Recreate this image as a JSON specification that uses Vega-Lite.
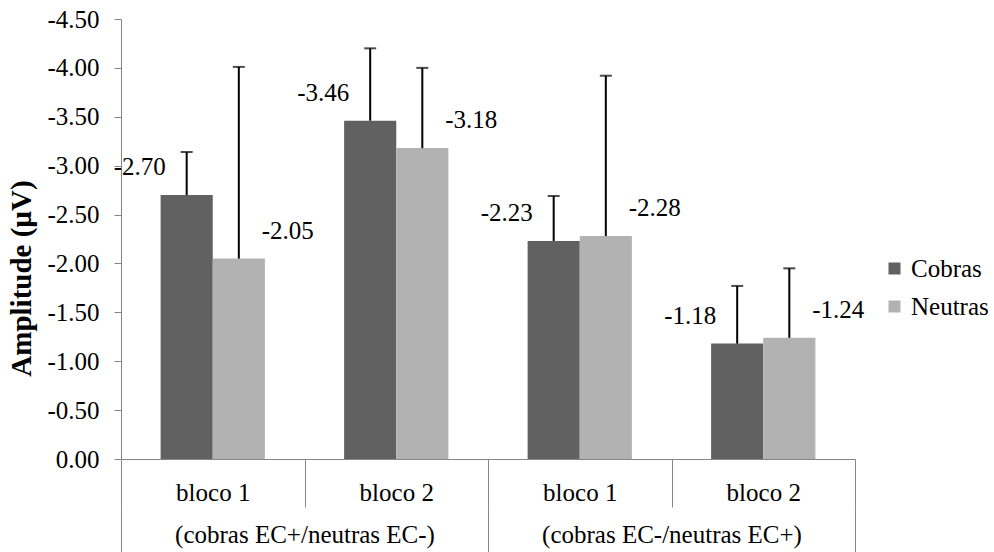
{
  "$schema": "https://vega.github.io/schema/vega-lite/v6.json",
  "width": 734,
  "height": 440,
  "autosize": {"type": "none"},
  "padding": {"left": 121, "top": 19, "right": 139, "bottom": 93},
  "background": "white",
  "config": {
    "view": {"stroke": null},
    "font": "Liberation Serif",
    "text": {"font": "Liberation Serif"},
    "legend": {"labelFont": "Liberation Serif"},
    "axis": {"labelFont": "Liberation Serif", "titleFont": "Liberation Serif", "labelColor": "black", "titleColor": "black", "domainColor": "#868686", "tickColor": "#868686", "grid": false, "labelLimit": 500}
  },
  "data": {"values": [
    {"grupo": "(cobras EC+/neutras EC-)", "cond": "A|bloco 1", "serie": "Cobras", "value": -2.70, "err_end": -3.14},
    {"grupo": "(cobras EC+/neutras EC-)", "cond": "A|bloco 1", "serie": "Neutras", "value": -2.05, "err_end": -4.01},
    {"grupo": "(cobras EC+/neutras EC-)", "cond": "A|bloco 2", "serie": "Cobras", "value": -3.46, "err_end": -4.20},
    {"grupo": "(cobras EC+/neutras EC-)", "cond": "A|bloco 2", "serie": "Neutras", "value": -3.18, "err_end": -4.00},
    {"grupo": "(cobras EC-/neutras EC+)", "cond": "B|bloco 1", "serie": "Cobras", "value": -2.23, "err_end": -2.69},
    {"grupo": "(cobras EC-/neutras EC+)", "cond": "B|bloco 1", "serie": "Neutras", "value": -2.28, "err_end": -3.92},
    {"grupo": "(cobras EC-/neutras EC+)", "cond": "B|bloco 2", "serie": "Cobras", "value": -1.18, "err_end": -1.77},
    {"grupo": "(cobras EC-/neutras EC+)", "cond": "B|bloco 2", "serie": "Neutras", "value": -1.24, "err_end": -1.95}
  ]},
  "resolve": {"scale": {"x": "independent"}},
  "layer": [
    {
      "encoding": {
        "x": {"field": "cond", "type": "nominal", "sort": null,
          "scale": {"paddingInner": 0, "paddingOuter": 0},
          "axis": {"title": null, "labelAngle": 0, "tickBand": "extent", "tickSize": 48, "labelBaseline": "middle", "labelPadding": -15, "labelFontSize": 25, "labelExpr": "slice(datum.label, 2)", "domainColor": "#868686", "orient": "bottom"}},
        "xOffset": {"field": "serie", "type": "nominal", "scale": {"paddingInner": 0, "paddingOuter": 0.76}},
        "y": {"field": "value", "type": "quantitative",
          "scale": {"domain": [-4.5, 0], "reverse": true, "nice": false, "zero": false},
          "axis": {"title": "Amplitude (µV)", "titleFontSize": 29, "titleFontWeight": "bold", "titlePadding": 10, "titleY": 259, "values": [0, -0.5, -1, -1.5, -2, -2.5, -3, -3.5, -4, -4.5], "labelExpr": "replace(format(datum.value, '.2f'), '−', '-')", "labelFontSize": 25, "tickSize": 7, "labelPadding": 15}}
      },
      "layer": [
        {
          "mark": {"type": "bar"},
          "encoding": {
            "y2": {"datum": 0},
            "color": {"field": "serie", "type": "nominal", "scale": {"domain": ["Cobras", "Neutras"], "range": ["#616161", "#b2b2b2"]},
              "legend": {"title": null, "orient": "none", "legendX": 761, "legendY": 237, "symbolType": "square", "symbolSize": 144, "symbolStrokeWidth": 0, "labelFontSize": 25, "labelColor": "black", "rowPadding": 12, "labelOffset": 4}}
          }
        },
        {
          "mark": {"type": "rule", "color": "black", "strokeWidth": 2},
          "encoding": {"y2": {"field": "err_end"}}
        },
        {
          "mark": {"type": "tick", "color": "black", "thickness": 2, "size": 12},
          "encoding": {"y": {"field": "err_end", "type": "quantitative"}}
        },
        {
          "transform": [{"filter": "datum.serie === 'Cobras'"}],
          "mark": {"type": "text", "fontSize": 25, "color": "black", "dx": -47, "dy": -28, "baseline": "middle", "text": {"expr": "replace(format(datum.value, '.2f'), '−', '-')"}},
          "encoding": {}
        },
        {
          "transform": [{"filter": "datum.serie === 'Neutras'"}],
          "mark": {"type": "text", "fontSize": 25, "color": "black", "dx": 49, "dy": -28, "baseline": "middle", "text": {"expr": "replace(format(datum.value, '.2f'), '−', '-')"}},
          "encoding": {}
        }
      ]
    },
    {
      "mark": {"type": "point", "opacity": 0},
      "encoding": {
        "x": {"field": "grupo", "type": "nominal", "sort": null,
          "scale": {"paddingInner": 0, "paddingOuter": 0},
          "axis": {"title": null, "orient": "bottom", "offset": 48, "domain": false, "labelAngle": 0, "tickBand": "extent", "tickSize": 45, "labelBaseline": "middle", "labelPadding": -18, "labelFontSize": 25}},
        "y": {"field": "value", "type": "quantitative"}
      }
    }
  ]
}
